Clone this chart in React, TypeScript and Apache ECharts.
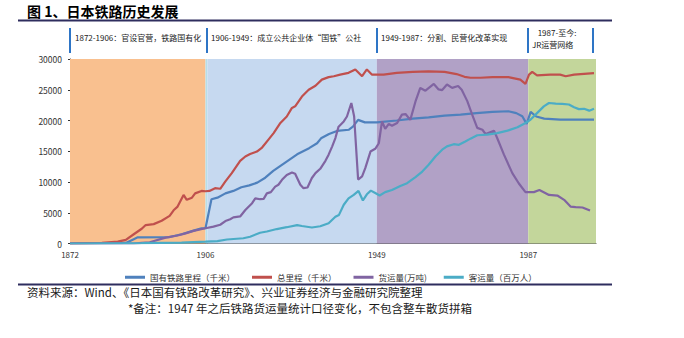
import React, { useEffect, useRef } from "react";
import * as echarts from "echarts";

// ---- Data ----
const xLabelYears = [1872, 1906, 1949, 1987];

const seriesNames = ["国有铁路里程（千米）", "总里程（千米）", "货运量(万吨)", "客运量（百万人）"];
const seriesColors = ["#4F81BD", "#C0504D", "#8064A2", "#4BACC6"];

const nationalYears = [1872, 1886, 1888, 1889, 1897, 1900, 1903, 1905, 1906, 1907.5, 1909, 1911, 1913, 1915, 1917, 1919, 1921, 1923, 1925, 1927, 1929, 1932, 1934, 1935, 1937, 1939, 1942, 1943, 1944.3, 1946, 1949, 1954, 1958, 1962, 1966, 1970, 1974, 1978, 1982, 1984, 1985.5, 1986.6, 1987.6, 1989, 1991, 1995, 2003.5];
const nationalValues = [0, 100, 700, 1000, 1050, 1500, 2100, 2450, 2480, 7200, 7450, 8150, 8550, 9150, 9450, 9900, 10700, 11800, 12700, 13600, 14500, 15500, 16300, 17100, 17800, 18300, 18500, 19000, 20100, 19700, 19700, 20000, 20300, 20500, 20800, 20950, 21200, 21400, 21500, 21200, 20700, 19450, 21400, 20650, 20300, 20150, 20150];

const totalYears = [1872, 1880, 1884, 1886, 1888, 1890, 1891, 1893, 1895, 1897, 1898, 1899, 1900.5, 1901.3, 1902.6, 1903.4, 1905, 1906, 1907, 1908.4, 1909.7, 1911, 1912.6, 1914.7, 1916, 1917.2, 1918.9, 1920.2, 1921.8, 1923.1, 1924.8, 1926.4, 1927.7, 1928.5, 1930.2, 1931.9, 1933.6, 1935.2, 1936.9, 1938.2, 1939.8, 1941.9, 1943.6, 1945.3, 1946.5, 1947.8, 1950.7, 1954, 1958, 1962, 1966, 1969, 1971, 1972.5, 1975, 1978, 1982, 1985, 1986.3, 1987.2, 1988, 1989.2, 1992.5, 1995, 1996.4, 1998.5, 2003.5];
const totalValues = [0, 100, 300, 600, 1500, 2400, 3000, 3150, 3700, 4500, 5400, 6000, 7900, 7100, 7450, 8150, 8550, 8500, 8550, 9000, 8900, 10100, 11450, 13450, 14150, 14550, 14950, 15600, 16900, 17950, 19600, 20650, 22050, 22300, 23900, 25000, 25650, 26650, 27050, 27200, 27450, 27750, 28300, 27200, 28300, 27450, 27450, 27750, 27900, 28000, 27900, 27550, 27100, 26950, 26950, 27050, 27050, 26650, 25950, 27450, 27900, 27350, 27450, 27450, 27200, 27450, 27700];

const freightYears = [1872, 1888, 1890, 1892, 1896, 1899, 1901, 1903, 1906, 1908, 1909.7, 1911, 1912.2, 1913, 1914.7, 1916, 1917.7, 1918.5, 1919.7, 1920.6, 1921.4, 1922.4, 1923.5, 1924.3, 1925.2, 1926.4, 1927.7, 1928.5, 1929.8, 1930.6, 1931.6, 1932.7, 1933.6, 1934.8, 1936.1, 1936.9, 1937.8, 1938.6, 1939.4, 1940.7, 1941.5, 1942.6, 1943.3, 1944.3, 1945.3, 1946.1, 1947.4, 1948.6, 1949.5, 1950.3, 1951.1, 1952, 1952.8, 1954.1, 1955.3, 1956.2, 1957.4, 1958.7, 1959.9, 1961.2, 1963.3, 1964.5, 1965.4, 1966.6, 1967.9, 1969.4, 1970.3, 1971.7, 1972.9, 1974.2, 1975.5, 1976.3, 1978.4, 1979.2, 1980.9, 1983, 1984.6, 1986.3, 1988.4, 1989.8, 1992.2, 1994.3, 1996, 1997.6, 1998.9, 2000.6, 2002.5];
const freightValues = [0, 0, 100, 200, 950, 1300, 1650, 2050, 2480, 2750, 3050, 3650, 3950, 4250, 4400, 5450, 6550, 7350, 7200, 7250, 8150, 8350, 9250, 9550, 10350, 11150, 11550, 11350, 9550, 9000, 9100, 10650, 11450, 12150, 13450, 14450, 15800, 17150, 19000, 19850, 20650, 22850, 20700, 10400, 10900, 12250, 14950, 15400, 16300, 19850, 18650, 19450, 19150, 19600, 20950, 21050, 20100, 23100, 25300, 24850, 25950, 25050, 24950, 25850, 25300, 25600, 25000, 23150, 21000, 18800, 18500, 17800, 18350, 17150, 14450, 11450, 9800, 8350, 8350, 8700, 7900, 7800, 7100, 6000, 5900, 5850, 5350];

const passengerYears = [1872, 1890, 1900, 1906, 1909, 1911.4, 1915.5, 1917.2, 1919.7, 1921.4, 1923.9, 1926.4, 1929, 1930.2, 1932.7, 1934.8, 1936.9, 1938.6, 1939.5, 1940.7, 1941.9, 1943.2, 1944.4, 1945.5, 1946.5, 1947.5, 1948.6, 1949.7, 1951.1, 1952.8, 1954.9, 1956.6, 1958.7, 1960.4, 1962, 1963.7, 1965.4, 1966.6, 1968.3, 1969.6, 1971.2, 1972.5, 1974.2, 1976.7, 1979.2, 1981.8, 1984.3, 1986.3, 1987.6, 1989.2, 1990.9, 1992.2, 1993.9, 1995.5, 1997.2, 1998.5, 1999.7, 2001, 2002.3, 2003.5];
const passengerValues = [0, 50, 150, 300, 400, 650, 850, 1100, 1750, 1950, 2350, 2650, 3000, 2850, 2600, 2800, 3300, 4350, 4650, 6300, 7350, 7900, 8550, 7000, 8000, 8600, 8200, 7800, 8350, 8700, 9350, 9800, 10800, 11700, 12800, 14150, 15250, 15800, 16150, 16050, 16600, 17050, 17600, 17700, 17950, 18350, 18900, 19600, 20150, 21200, 22300, 22850, 22750, 22700, 22600, 22150, 21850, 21900, 21600, 21900];

const periodStarts = [1872, 1906, 1906.5, 1949, 1987];
const periodEnds = [1906, 1906.5, 1949, 1987, 2004];
const periodColors = ["#F9C08F", "#B7DEE8", "#C6D9F0", "#B1A1C6", "#C3D69B"];

const headerTexts = ["1872-1906：官设官营，铁路国有化", "1906-1949：成立公共企业体“国铁”公社", "1949-1987：分割、民营化改革实现"];

const FONT = "'Noto Sans CJK SC', 'Noto Sans', sans-serif";

function pairs(xs: number[], ys: number[]) {
  return xs.map((x, i) => [x, ys[i]]);
}

export default function App() {
  const ref = useRef<HTMLDivElement>(null);
  useEffect(() => {
    if (!ref.current) return;
    const chart = echarts.init(ref.current, null, { renderer: "svg" });
    const dataSets = [
      pairs(nationalYears, nationalValues),
      pairs(totalYears, totalValues),
      pairs(freightYears, freightValues),
      pairs(passengerYears, passengerValues),
    ];
    const bars = [70, 207, 377, 528, 593];
    const headerX = [75, 211, 381];
    const graphics: any[] = [
      {
        type: "text",
        left: 27,
        top: 4,
        style: { text: "图 1、日本铁路历史发展", font: `bold 14px ${FONT}`, fill: "#000" },
      },
      { type: "line", shape: { x1: 18, y1: 20.5, x2: 612, y2: 20.5 }, style: { stroke: "#2E2D5E", lineWidth: 2 } },
      { type: "line", shape: { x1: 18, y1: 284.5, x2: 612, y2: 284.5 }, style: { stroke: "#2E2D5E", lineWidth: 2 } },
      ...bars.map((x) => ({
        type: "line",
        shape: { x1: x, y1: 28, x2: x, y2: 53 },
        style: { stroke: "#2E75C6", lineWidth: 2 },
      })),
      ...headerTexts.map((t, i) => ({
        type: "text",
        x: headerX[i],
        y: 37,
        style: { text: t, font: `8px ${FONT}`, fill: "#222", verticalAlign: "middle" },
      })),
      { type: "text", x: 557, y: 32, style: { text: "1987-至今:", font: `8px ${FONT}`, fill: "#222", align: "center", verticalAlign: "middle" } },
      { type: "text", x: 532, y: 44, style: { text: "JR运营网络", font: `8px ${FONT}`, fill: "#222", verticalAlign: "middle" } },
      {
        type: "text",
        x: 27,
        y: 292,
        style: { text: "资料来源：Wind、《日本国有铁路改革研究》、兴业证券经济与金融研究院整理", font: `11.5px ${FONT}`, fill: "#1a1a1a", verticalAlign: "middle" },
      },
      {
        type: "text",
        x: 128,
        y: 308,
        style: { text: "*备注：1947 年之后铁路货运量统计口径变化，不包含整车散货拼箱", font: `11.5px ${FONT}`, fill: "#1a1a1a", verticalAlign: "middle" },
      },
    ];

    chart.setOption({
      animation: false,
      backgroundColor: "#fff",
      textStyle: { fontFamily: FONT },
      grid: { left: 70, right: 88, top: 59, bottom: 94.5, containLabel: false },
      legend: {
        left: 120,
        top: 268,
        itemWidth: 20,
        itemHeight: 3,
        itemGap: 17,
        icon: "rect",
        textStyle: { fontSize: 8.5, color: "#333", fontFamily: FONT },
        data: seriesNames,
      },
      xAxis: {
        type: "value",
        min: 1872,
        max: 2004,
        splitLine: { show: false },
        axisLine: { lineStyle: { color: "#555", width: 1 } },
        axisTick: { show: false },
        axisLabel: {
          customValues: xLabelYears,
          fontSize: 8,
          color: "#333",
          margin: 7,
          formatter: (v: number) => String(v),
        },
      },
      yAxis: {
        type: "value",
        min: 0,
        max: 30000,
        interval: 5000,
        splitLine: { show: false },
        axisLine: { show: true, lineStyle: { color: "#333", width: 1 } },
        axisTick: { show: true, length: 2, lineStyle: { color: "#333" } },
        axisLabel: { fontSize: 8.5, color: "#333", margin: 8, formatter: (v: number) => String(v) },
      },
      graphic: graphics,
      series: [
        {
          type: "line",
          name: "__bg",
          data: [],
          z: 0,
          silent: true,
          markArea: {
            silent: true,
            data: periodStarts.map((s, i) => [
              { xAxis: s, itemStyle: { color: periodColors[i], opacity: 1 } },
              { xAxis: periodEnds[i] },
            ]),
          },
        },
        ...dataSets.map((d, i) => ({
          type: "line",
          name: seriesNames[i],
          data: d,
          showSymbol: false,
          symbol: "none",
          z: 3,
          lineStyle: { color: seriesColors[i], width: 2.2 },
          itemStyle: { color: seriesColors[i] },
        })),
      ],
    });
    return () => chart.dispose();
  }, []);
  return (
    <div
      ref={ref}
      style={{ position: "absolute", left: 0, top: 0, width: 684, height: 338, background: "#fff" }}
    />
  );
}
